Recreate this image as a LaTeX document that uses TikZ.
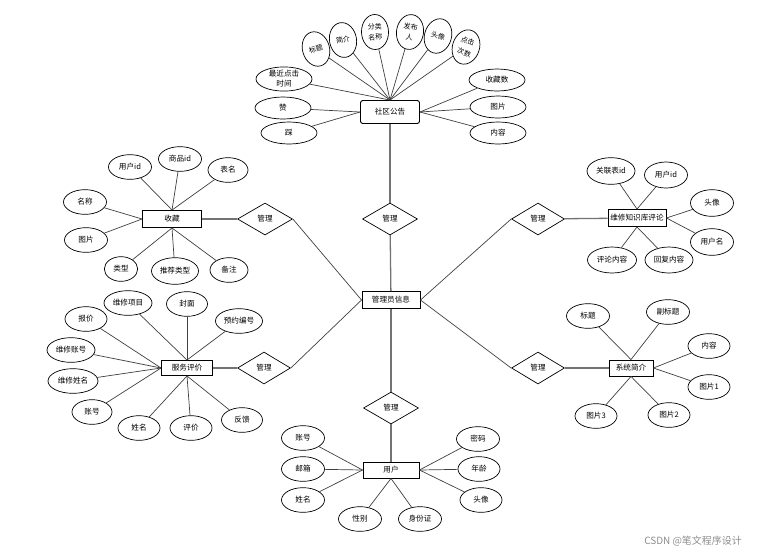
\documentclass[tikz,border=0pt]{standalone}
\usepackage{fontspec}
\setmainfont{Noto Sans CJK SC}
\usetikzlibrary{shapes.geometric}

\begin{document}
\begin{tikzpicture}[x=0.3mm, y=-0.3mm,
		every node/.style={font=\fontsize{6.5}{8.6}\selectfont, align=center},
		entity/.style={rectangle, draw, line width=0.8pt, inner sep=1pt,
				minimum width=17.4mm, minimum height=5.1mm},
		attr/.style={ellipse, draw, line width=0.6pt, inner sep=0pt,
				minimum width=12.9mm, minimum height=7.4mm},
		tilt/.style={attr, minimum width=8.1mm, minimum height=10.5mm,
				font=\fontsize{6}{9}\selectfont},
		wide/.style={attr, minimum width=16.8mm, minimum height=6.6mm},
		rel/.style={diamond, draw, line width=0.6pt, inner sep=0pt,
				minimum width=16.5mm, minimum height=9.6mm},
		link/.style={draw=black!75, line width=0.6pt},
		trunk/.style={draw=black!55, line width=1.1pt}
	]
	\useasboundingbox (0,0) rectangle (781,555);

	% central entity
	\node[entity] (admin) at (391,300) {管理员信息};

	% community notice
	\node[entity, rounded corners=2pt, minimum width=17.7mm, minimum height=6.9mm] (gg) at (390,112) {社区公告};
	\node[tilt, rotate=16] (gg1) at (316,49) {标题};
	\node[tilt, rotate=10] (gg2) at (343,40) {简介};
	\node[tilt, rotate=2] (gg3) at (375,32) {分类\\名称};
	\node[tilt, rotate=-8] (gg4) at (410,32) {发布\\人};
	\node[tilt, rotate=-16] (gg5) at (438,36) {头像};
	\node[tilt, rotate=-18, font=\fontsize{6}{10}\selectfont] (gg6) at (466,47) {点击\\次数};
	\node[wide] (gg7) at (284,79) {最近点击\\时间};
	\node[wide] (gg8) at (283,108) {赞};
	\node[wide] (gg9) at (289,133) {踩};
	\node[wide] (gg10) at (497,80) {收藏数};
	\node[wide] (gg11) at (498,107) {图片};
	\node[wide] (gg12) at (498,133) {内容};
	\node[rel] (r1) at (390,219) {管理};
	\foreach \a in {gg1,gg2,gg3,gg4,gg5,gg6,gg7} \draw[link] (\a) -- (gg.north);
	\foreach \a in {gg8,gg9} \draw[link] (\a) -- (gg.west);
	\foreach \a in {gg10,gg11,gg12} \draw[link] (\a) -- (gg.east);
	\draw[trunk] (gg) -- (r1);
	\draw[trunk] (r1) -- (admin);

	% favourites
	\node[entity, minimum width=17.7mm] (sc) at (172,219) {收藏};
	\node[attr] (sc1) at (130,167) {用户id};
	\node[attr] (sc2) at (180,159) {商品id};
	\node[attr, minimum width=12mm] (sc3) at (228,170) {表名};
	\node[attr] (sc4) at (85,202) {名称};
	\node[attr] (sc5) at (86,240) {图片};
	\node[attr, minimum width=10mm] (sc6) at (121,269) {类型};
	\node[attr, minimum width=14.1mm, minimum height=8mm] (sc7) at (175,271) {推荐类型};
	\node[attr, minimum width=11.4mm] (sc8) at (229,270) {备注};
	\node[rel] (r2) at (265,219) {管理};
	\foreach \a in {sc1,sc2,sc3} \draw[link] (\a) -- (sc.north);
	\foreach \a in {sc4,sc5} \draw[link] (\a) -- (sc.west);
	\foreach \a in {sc6,sc7,sc8} \draw[link] (\a) -- (sc.south);
	\draw[trunk] (sc) -- (r2);
	\draw[link] (r2.east) -- (admin.west);

	% service review
	\node[entity, minimum width=15.3mm, minimum height=4.5mm] (pj) at (187,368) {服务评价};
	\node[attr, minimum width=14.4mm] (pj1) at (128,303) {维修项目};
	\node[attr, minimum width=12.3mm] (pj2) at (187,304) {封面};
	\node[attr, minimum width=14.1mm] (pj3) at (239,321) {预约编号};
	\node[attr, minimum width=12.6mm] (pj4) at (86,319) {报价};
	\node[attr, minimum width=14.4mm] (pj5) at (71,350) {维修账号};
	\node[attr, minimum width=15mm] (pj6) at (73,381) {维修姓名};
	\node[attr, minimum width=12mm] (pj7) at (92,412) {账号};
	\node[attr, minimum width=12.6mm] (pj8) at (139,428) {姓名};
	\node[attr, minimum width=12.6mm] (pj9) at (191,428) {评价};
	\node[attr, minimum width=12.3mm] (pj10) at (242,420) {反馈};
	\node[rel, minimum width=15.9mm] (r3) at (264,368) {管理};
	\foreach \a in {pj1,pj2,pj3} \draw[link] (\a) -- (pj.north);
	\foreach \a in {pj4,pj5,pj6,pj7} \draw[link] (\a) -- (pj.west);
	\foreach \a in {pj8,pj9,pj10} \draw[link] (\a) -- (pj.south);
	\draw[trunk] (pj) -- (r3);
	\draw[link] (r3.east) -- (admin.west);

	% repair knowledge base comments
	\node[entity] (pl) at (637,218) {维修知识库评论};
	\node[attr, minimum width=14.4mm, minimum height=8mm] (pl1) at (611,171) {关联表id};
	\node[attr, minimum height=7.8mm] (pl2) at (666,175) {用户id};
	\node[attr, minimum height=8mm] (pl3) at (712,203) {头像};
	\node[attr, minimum height=8mm] (pl4) at (712,242) {用户名};
	\node[attr, minimum width=14.7mm, minimum height=7.8mm] (pl5) at (612,260) {评论内容};
	\node[attr, minimum width=14.4mm, minimum height=7.8mm] (pl6) at (669,260) {回复内容};
	\node[rel, minimum width=15.9mm] (r4) at (538,219) {管理};
	\foreach \a in {pl1,pl2} \draw[link] (\a) -- (pl.north);
	\foreach \a in {pl3,pl4} \draw[link] (\a) -- (pl.east);
	\foreach \a in {pl5,pl6} \draw[link] (\a) -- (pl.south);
	\draw[trunk] (pl) -- (r4);
	\draw[link] (r4.west) -- (admin.east);

	% system introduction
	\node[entity, minimum width=13.2mm, minimum height=4.8mm] (jj) at (631,368) {系统简介};
	\node[attr] (jj1) at (588,316) {标题};
	\node[attr] (jj2) at (668,312) {副标题};
	\node[attr, minimum width=12.6mm] (jj3) at (709,346) {内容};
	\node[attr, minimum width=12.6mm] (jj4) at (709,387) {图片1};
	\node[attr, minimum width=12.6mm] (jj5) at (669,415) {图片2};
	\node[attr, minimum width=12.6mm] (jj6) at (596,416) {图片3};
	\node[rel, minimum width=15.9mm] (r5) at (538,368) {管理};
	\foreach \a in {jj1,jj2} \draw[link] (\a) -- (jj.north);
	\foreach \a in {jj3,jj4} \draw[link] (\a) -- (jj.east);
	\foreach \a in {jj5,jj6} \draw[link] (\a) -- (jj.south);
	\draw[trunk] (jj) -- (r5);
	\draw[link] (r5.west) -- (admin.east);

	% user
	\node[entity, minimum width=16.8mm, minimum height=4.8mm] (yh) at (391,470) {用户};
	\node[attr] (yh1) at (303,438) {账号};
	\node[attr] (yh2) at (303,469) {邮箱};
	\node[attr] (yh3) at (303,500) {姓名};
	\node[attr] (yh4) at (360,519) {性别};
	\node[attr] (yh5) at (420,519) {身份证};
	\node[attr] (yh6) at (478,439) {密码};
	\node[attr, minimum width=12.6mm] (yh7) at (479,469) {年龄};
	\node[attr, minimum width=12.6mm] (yh8) at (481,500) {头像};
	\node[rel] (r6) at (391,408) {管理};
	\foreach \a in {yh1,yh2,yh3} \draw[link] (\a) -- (yh.west);
	\foreach \a in {yh4,yh5} \draw[link] (\a) -- (yh.south);
	\foreach \a in {yh6,yh7,yh8} \draw[link] (\a) -- (yh.east);
	\draw[trunk] (admin) -- (r6);
	\draw[trunk] (r6) -- (yh);

	% watermark
	\node[text=black!45, font=\fontsize{8.5}{10}\selectfont] (wm) at (693,541) {CSDN @笔文程序设计};
\end{tikzpicture}
\end{document}
